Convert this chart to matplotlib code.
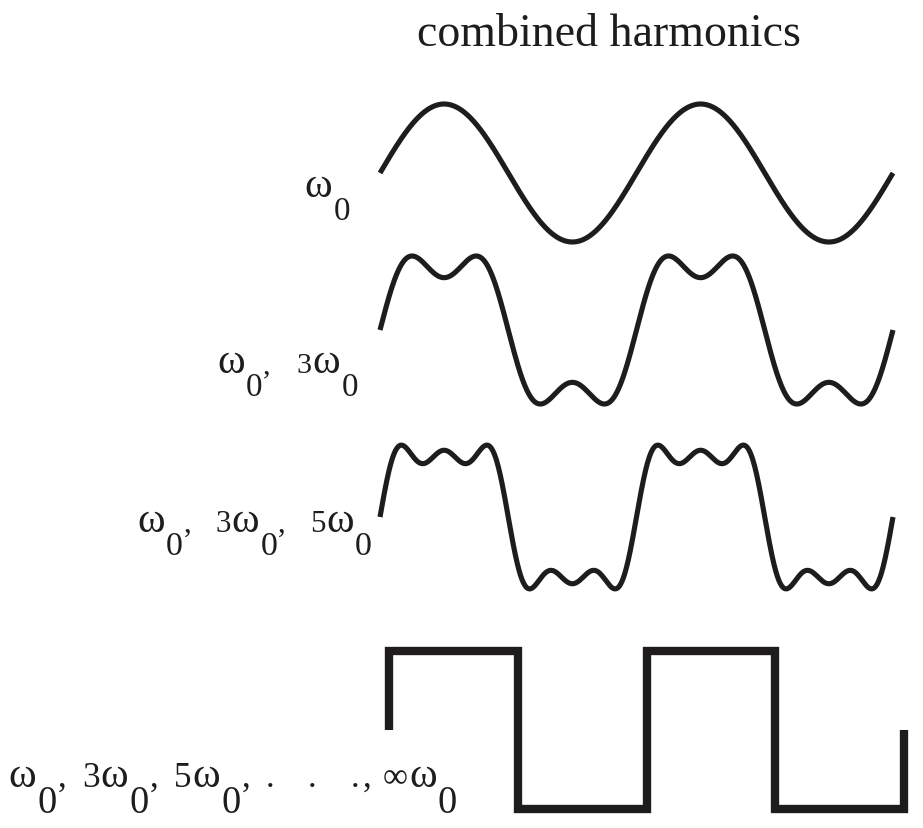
import numpy as np
import matplotlib
matplotlib.use("Agg")
import matplotlib.pyplot as plt

# fourier build-up of a square wave from odd harmonics
harmonic_sets = [[1], [1, 3], [1, 3, 5]]
periods = 2  # number of periods shown

# ideal square wave corners (x in units of pi)
square_x = [0, 0, 1, 1, 2, 2, 3, 3, 4, 4]
square_y = [0, 1, 1, -1, -1, 1, 1, -1, -1, 0]

title = "combined harmonics"

# labels: "_0" = lowered 0, numbers = extra gap in pixels
row_labels = [
    ["ω", "_0"],
    ["ω", "_0", ",", 26, "3", "ω", "_0"],
    ["ω", "_0", ",", 24, "3", "ω", "_0", ",", 24, "5", "ω", "_0"],
    ["ω", "_0", ",", 16, "3", "ω", "_0", ",", 16, "5", "ω", "_0", ",", 15,
     ".", 34, ".", 34, ".", 3, ",", 12, "∞", "ω", "_0"],
]

W, H = 923, 829
ink = "#1e1c1d"
serif = ["Liberation Serif", "DejaVu Serif"]

fig = plt.figure(figsize=(W / 100, H / 100), dpi=100)


def px_axes(left, right, center, scale):
    # axes placed in pixel units, y data -1..1 maps to center -/+ scale
    ax = fig.add_axes([left / W, 1 - (center + scale) / H,
                       (right - left) / W, 2 * scale / H])
    ax.set_ylim(-1, 1)
    ax.axis("off")
    return ax


# rows: (left, right, center, scale) in pixels
row_geom = [(380, 893, 174, 69), (380, 893, 331, 78.5), (380, 893, 518, 77)]

t = np.linspace(0, 2 * np.pi * periods, 1200)
for hs, (l, r, c, s) in zip(harmonic_sets, row_geom):
    ax = px_axes(l, r, c, s)
    y = np.zeros_like(t)
    for n in hs:
        y += np.sin(n * t) / n
    ax.plot(t, y, color=ink, lw=3.7, solid_capstyle="butt", clip_on=False)
    ax.set_xlim(0, 2 * np.pi * periods)

ax = px_axes(389, 904, 731, 79)
ax.plot(np.array(square_x) * np.pi, square_y, color=ink, lw=6.0,
        solid_capstyle="butt", solid_joinstyle="miter", clip_on=False)
ax.set_xlim(0, 2 * np.pi * periods)

fig.text(609 / W, 1 - 46 / H, title, ha="center", va="baseline",
         fontsize=33, family=serif, color=ink)

# label placement: right edge x, baseline y, em size in px, omega scale
label_geom = [(350, 197, 30, 1.4), (358, 373, 30, 1.4),
              (372, 532, 31, 1.35), (457, 787, 35, 1.2)]

renderer = fig.canvas.get_renderer()
for tokens, (xr, yb, em, wscale) in zip(row_labels, label_geom):
    x = xr
    prev_str = False
    for tok in reversed(tokens):
        if not isinstance(tok, str):
            x -= tok
            prev_str = False
            continue
        if prev_str:
            x -= 1
        fs = em * 0.72
        yy = yb
        txt = tok
        if tok == "ω":
            fs = em * wscale * 0.72
        elif tok.startswith("_"):
            fs = em * 1.1 * 0.72
            yy = yb + 0.75 * em
            txt = tok[1:]
        tt = fig.text(x / W, 1 - yy / H, txt, ha="right", va="baseline",
                      fontsize=fs, family=serif, color=ink)
        x -= tt.get_window_extent(renderer).width
        prev_str = True

fig.savefig("out.png", dpi=100, facecolor="white")
